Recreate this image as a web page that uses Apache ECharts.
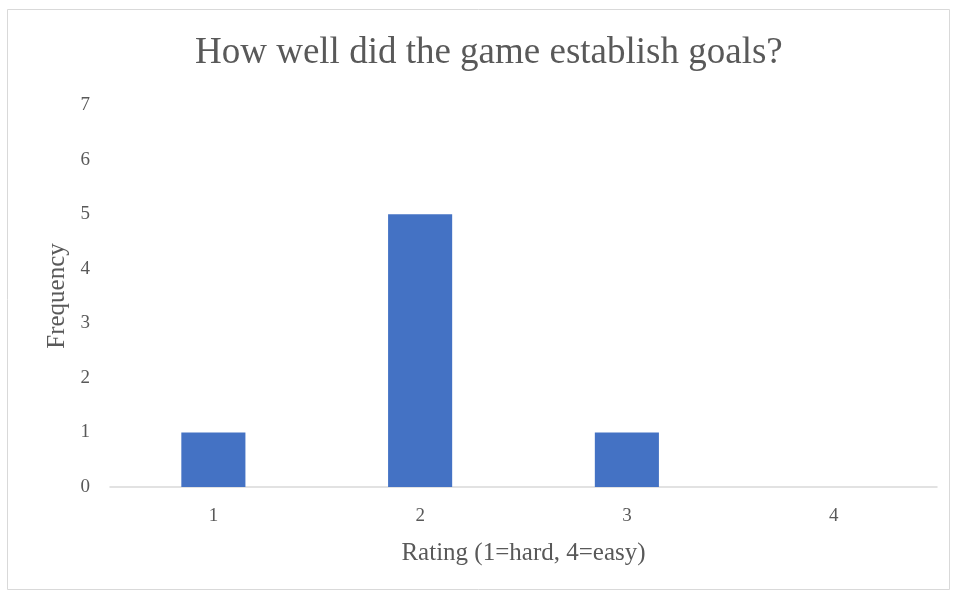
<!DOCTYPE html>
<html>
<head>
<meta charset="utf-8">
<script src="https://cdn.jsdelivr.net/npm/echarts@6/dist/echarts.min.js"></script>
<style>
html,body{margin:0;padding:0;background:#fff;}
#c{width:954px;height:592px;}
</style>
</head>
<body>
<div id="c"></div>
<script>
const categories = ['1', '2', '3', '4'];
const frequency = [1, 5, 1, 0];
const titleText = 'How well did the game establish goals?';
const xName = 'Rating (1=hard, 4=easy)';
const yName = 'Frequency';

const chart = echarts.init(document.getElementById('c'));
const font = '"Liberation Serif", "Times New Roman", serif';
chart.setOption({
  backgroundColor: '#fff',
  animation: false,
  graphic: [{
    type: 'rect',
    shape: { x: 7.5, y: 9.5, width: 942, height: 580 },
    style: { fill: 'none', stroke: '#d9d9d9', lineWidth: 1 },
    silent: true
  }],
  title: {
    text: titleText,
    left: 190,
    top: 30,
    textStyle: { fontFamily: font, fontSize: 37, fontWeight: 'normal', color: '#595959' }
  },
  grid: { left: 110, right: 17, top: 105, bottom: 105 },
  xAxis: {
    type: 'category',
    data: categories,
    name: xName,
    nameLocation: 'middle',
    nameGap: 54,
    nameTextStyle: { fontFamily: font, fontSize: 25, color: '#595959' },
    axisLine: { lineStyle: { color: '#d9d9d9', width: 1.5 } },
    axisTick: { show: false },
    axisLabel: { fontFamily: font, fontSize: 19, color: '#595959', margin: 20 }
  },
  yAxis: {
    type: 'value',
    min: 0,
    max: 7,
    interval: 1,
    name: yName,
    nameLocation: 'middle',
    nameGap: 38,
    nameTextStyle: { fontFamily: font, fontSize: 25, color: '#595959' },
    axisLine: { show: false },
    axisTick: { show: false },
    splitLine: { show: false },
    axisLabel: { fontFamily: font, fontSize: 19, color: '#595959', margin: 20 }
  },
  series: [{
    type: 'bar',
    data: frequency,
    barWidth: '31%',
    itemStyle: { color: '#4472c4' }
  }]
});
</script>
</body>
</html>
